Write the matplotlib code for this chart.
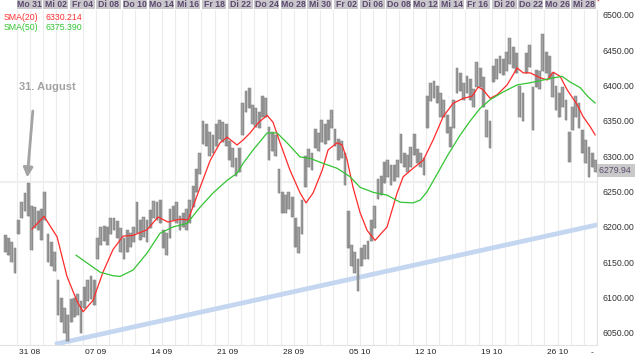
import numpy as np
import matplotlib.pyplot as plt
import matplotlib.transforms as mtransforms
from matplotlib.patches import Rectangle

plt.rcParams['font.family'] = ['Liberation Sans', 'DejaVu Sans']

# --- Kursdaten (4 Bars pro Handelstag, erster Bar am 28.08. nachmittags) ---
highs = [6188, 6185, 6178, 6170, 6210, 6235, 6248, 6262, 6230, 6228,
         6222, 6225, 6250, 6190, 6178, 6165, 6125, 6100, 6085, 6075,
         6098, 6100, 6105, 6095, 6115, 6125, 6130, 6125, 6185, 6200,
         6202, 6200, 6213, 6212, 6208, 6198, 6185, 6195, 6192, 6200,
         6235, 6210, 6214, 6210, 6224, 6236, 6235, 6238, 6195, 6192,
         6225, 6230, 6235, 6215, 6220, 6225, 6238, 6258, 6282, 6305,
         6350, 6345, 6335, 6330, 6345, 6352, 6348, 6345, 6322, 6312,
         6298, 6312, 6375, 6392, 6396, 6372, 6368, 6362, 6385, 6382,
         6342, 6335, 6330, 6282, 6250, 6245, 6250, 6242, 6212, 6200,
         6238, 6300, 6310, 6305, 6338, 6333, 6352, 6345, 6352, 6366,
         6338, 6325, 6322, 6305, 6222, 6175, 6165, 6155, 6170, 6175,
         6180, 6210, 6230, 6268, 6272, 6292, 6295, 6288, 6288, 6295,
         6332, 6305, 6302, 6313, 6332, 6310, 6305, 6298, 6385, 6404,
         6406, 6400, 6390, 6380, 6358, 6342, 6380, 6425, 6418, 6404,
         6413, 6410, 6395, 6433, 6425, 6412, 6365, 6350, 6428, 6438,
         6442, 6438, 6448, 6467, 6455, 6446, 6400, 6390, 6446, 6458,
         6398, 6422, 6420, 6473, 6448, 6442, 6418, 6400, 6390, 6398,
         6380, 6335, 6370, 6385, 6375, 6337, 6323, 6313, 6305, 6295]
lows = [6165, 6160, 6150, 6135, 6190, 6212, 6222, 6215, 6168, 6198,
        6195, 6182, 6210, 6150, 6145, 6138, 6075, 6065, 6050, 6038,
        6065, 6072, 6075, 6050, 6085, 6095, 6098, 6090, 6155, 6175,
        6180, 6175, 6190, 6195, 6185, 6165, 6155, 6165, 6172, 6178,
        6192, 6181, 6186, 6178, 6198, 6212, 6210, 6205, 6170, 6160,
        6185, 6210, 6205, 6195, 6200, 6195, 6205, 6228, 6250, 6275,
        6318, 6315, 6300, 6305, 6315, 6325, 6320, 6315, 6295, 6285,
        6272, 6278, 6330, 6362, 6368, 6345, 6342, 6340, 6355, 6355,
        6295, 6308, 6300, 6248, 6220, 6220, 6225, 6214, 6172, 6163,
        6190, 6256, 6285, 6280, 6312, 6308, 6320, 6318, 6323, 6340,
        6315, 6295, 6298, 6260, 6170, 6145, 6135, 6110, 6145, 6155,
        6155, 6180, 6198, 6240, 6245, 6262, 6270, 6260, 6265, 6270,
        6290, 6285, 6278, 6285, 6302, 6290, 6285, 6273, 6340, 6378,
        6383, 6375, 6356, 6356, 6333, 6313, 6340, 6390, 6392, 6380,
        6390, 6380, 6370, 6398, 6398, 6370, 6327, 6312, 6405, 6410,
        6418, 6415, 6420, 6430, 6425, 6418, 6355, 6350, 6418, 6426,
        6337, 6398, 6395, 6420, 6418, 6410, 6384, 6365, 6356, 6370,
        6351, 6292, 6337, 6356, 6340, 6304, 6290, 6271, 6285, 6278]
bars_per_day = 4
first_bar_day = -0.875   # Handelstage relativ zum 31.08.

# --- gleitende Durchschnitte (Zeit in Handelstagen, Wert) ---
sma20_t = [1.16, 2.07, 3.06, 3.81, 4.57, 5.03, 5.78, 6.54, 7.30, 8.06,
           8.82, 9.88, 10.71, 11.47, 12.38, 12.99, 13.90, 14.66, 15.41, 15.95,
           16.70, 17.16, 17.69, 18.29, 18.98, 19.43, 19.96, 20.72, 21.48, 21.93,
           22.46, 23.15, 23.60, 24.28, 24.66, 25.04, 25.49, 26.03, 26.56, 27.16,
           28.07, 28.83, 29.29, 30.04, 30.80, 31.56, 32.32, 33.08, 33.84, 34.52,
           34.98, 35.35, 35.88, 36.41, 37.17, 37.93, 38.39, 38.92, 39.68, 40.21,
           40.66, 41.19, 41.72, 42.48, 42.93, 43.46, 43.84]
sma20 = [6197, 6215, 6186, 6130, 6095, 6080, 6096, 6136, 6168, 6187,
         6188, 6196, 6214, 6207, 6211, 6210, 6256, 6294, 6319, 6327,
         6316, 6323, 6333, 6347, 6358, 6348, 6319, 6280, 6248, 6234,
         6248, 6280, 6309, 6319, 6316, 6295, 6256, 6220, 6195, 6181,
         6200, 6248, 6271, 6283, 6294, 6323, 6356, 6375, 6382, 6385,
         6398, 6394, 6382, 6387, 6401, 6425, 6418, 6418, 6411, 6408,
         6419, 6413, 6394, 6373, 6356, 6342, 6330.214]
sma50_t = [4.50, 5.41, 6.32, 7.30, 7.83, 8.82, 9.88, 10.86, 11.85, 12.91,
           13.90, 14.88, 15.95, 16.70, 17.16, 17.92, 18.98, 19.73, 20.49, 21.48,
           22.24, 23.22, 24.28, 25.27, 26.03, 27.02, 28.07, 29.06, 30.04, 30.58,
           31.11, 31.87, 32.62, 33.61, 34.37, 35.13, 35.88, 36.87, 37.93, 38.92,
           39.91, 40.66, 41.34, 41.95, 42.71, 43.31, 43.84]
sma50 = [6160, 6148, 6136, 6131, 6130, 6139, 6163, 6191, 6200, 6205,
         6228, 6248, 6266, 6276, 6290, 6309, 6333, 6333, 6319, 6299,
         6297, 6290, 6283, 6271, 6256, 6249, 6245, 6235, 6234, 6238,
         6250, 6275, 6300, 6330, 6350, 6368, 6380, 6391, 6401, 6404,
         6408, 6411, 6413, 6405, 6397, 6384, 6375.390]

# Trendlinie (Start, Ende)
trend_t = [2.9, 44.0]
trend_v = [6034, 6203]

last_price = 6279.94
ref_level = 6263

top_labels = ['Mo 31', 'Mi 02', 'Fr 04', 'Di 08', 'Do 10', 'Mo 14', 'Mi 16', 'Fr 18',
              'Di 22', 'Do 24', 'Mo 28', 'Mi 30', 'Fr 02', 'Di 06', 'Do 08', 'Mo 12',
              'Mi 14', 'Fr 16', 'Di 20', 'Do 22', 'Mo 26', 'Mi 28']
week_days = [0, 5, 10, 15, 20, 25, 30, 35, 40]
week_labels = ['31 08', '07 09', '14 09', '21 09', '28 09', '05 10', '12 10', '19 10', '26 10']
price_ticks = [6050, 6100, 6150, 6200, 6250, 6300, 6350, 6400, 6450, 6500]

# ===================== Zeichnen =====================
fig = plt.figure(figsize=(6.4, 3.56), dpi=100)
ax = fig.add_axes([0, 0.031, 0.933, 0.941])
xmin, xmax = -1.266, 43.99
ax.set_xlim(xmin, xmax)
ax.set_ylim(6033, 6507)

t = first_bar_day + np.arange(len(highs)) / bars_per_day
highs = np.array(highs)
lows = np.array(lows)

# Raster
for d in range(0, 45):
    ax.axvline(d, color='#ececec', lw=0.8, zorder=0)
ax.axhline(ref_level, color='#efefef', lw=1.5, zorder=0)

# Trendlinie
ax.plot(trend_t, trend_v, color='#c4d6f0', lw=3.4, solid_capstyle='butt', zorder=1)

# Bars
ax.bar(t, highs - lows, bottom=lows, width=0.21, color='#a2a2a2',
       edgecolor='#7c7c7c', linewidth=0.35, zorder=2)
ax.vlines(t, lows, highs, color='#8a8a8a', lw=0.6, zorder=2)

# SMA-Linien
ax.plot(sma20_t, sma20, color='#ff2b2b', lw=0.9, zorder=3)
ax.plot(sma50_t, sma50, color='#33c433', lw=0.9, zorder=3)

# Annotation 31. August
ax.text(2.3, 6398, '31. August', color='#a3a3a3', fontsize=8, fontweight='bold',
        ha='center', va='center')
ax.annotate('', xy=(0.78, 6266), xytext=(1.24, 6368),
            arrowprops=dict(arrowstyle='-|>', color='#a3a3a3', lw=2.0, mutation_scale=14))

# Achsen
for s in ['top', 'left']:
    ax.spines[s].set_visible(False)
ax.spines['right'].set_color('#e2e2e2')
ax.spines['bottom'].set_color('#e2e2e2')
ax.yaxis.tick_right()
ax.set_yticks(price_ticks)
ax.set_yticklabels([f'{p:.2f}' for p in price_ticks], fontsize=6.3, color='#333333')
ax.tick_params(axis='y', length=0, pad=4)
ax.set_xticks([])

trans = mtransforms.blended_transform_factory(ax.transData, ax.transAxes)
for d, lab in zip(week_days, week_labels):
    ax.text(d + 0.2, -0.012, lab, transform=trans, fontsize=6, color='#222222',
            ha='left', va='top')
ax.text(43.5, -0.012, '-', transform=trans, fontsize=6, color='#222222', ha='left', va='top')

# letzter Kurs
ytrans = mtransforms.blended_transform_factory(ax.transAxes, ax.transData)
ax.text(1.003, last_price, f'{last_price:.2f} ', transform=ytrans, fontsize=6.3,
        color='#5b4a6e', ha='left', va='center',
        bbox=dict(boxstyle='square,pad=0.2', fc='#c9c9c9', ec='none'))

# Datumsleiste oben
top = fig.add_axes([0, 0.976, 0.933, 0.024])
top.set_xlim(xmin, xmax)
top.set_ylim(0, 1)
top.axis('off')
for j, lab in enumerate(top_labels):
    top.add_patch(Rectangle((2 * j + 0.02, 0), 1.88, 1, fc='#c9c7cc', ec='none'))
    top.text(2 * j + 0.96, 0.5, lab, fontsize=6.3, fontweight='bold', color='#5b4a6e',
             ha='center', va='center')
top.text(43.95, 0.75, '*', fontsize=5, color='#e03030', ha='left', va='center')

# Legende
fig.text(4 / 640, 1 - 17 / 356, 'SMA(20)', fontsize=6.3, color='#ff3030', va='center')
fig.text(45 / 640, 1 - 17 / 356, '6330.214', fontsize=6.3, color='#ff3030', va='center')
fig.text(4 / 640, 1 - 28 / 356, 'SMA(50)', fontsize=6.3, color='#33c433', va='center')
fig.text(45 / 640, 1 - 28 / 356, '6375.390', fontsize=6.3, color='#33c433', va='center')

fig.savefig('out.png', dpi=100)
